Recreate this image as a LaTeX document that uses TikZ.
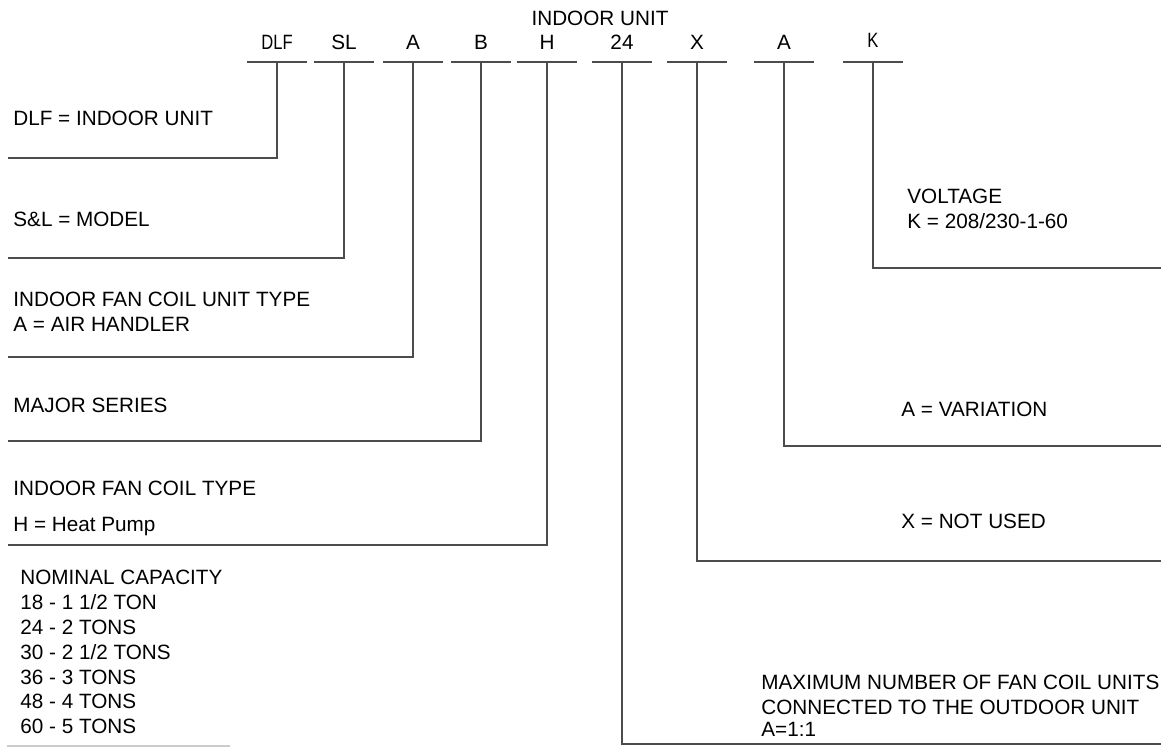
\documentclass[tikz,border=0pt]{standalone}
\usepackage{fontspec}
\setmainfont{Liberation Sans}
\usepackage{graphicx}
\usetikzlibrary{positioning}
\tikzstyle{code} = [inner xsep=0pt, inner ysep=6pt, minimum width=30pt, anchor=south, text depth=0pt]
\tikzstyle{desc} = [inner sep=0pt, anchor=north west, align=left]
\tikzstyle{lead} = [draw=black!70, line width=0.6pt]
\newcommand{\narrowtxt}[1]{\scalebox{0.8}[1]{#1}}

\begin{document}
\begin{tikzpicture}[x=0.5pt, y=-0.5pt, font=\fontsize{10.35}{12.4}\selectfont]
    \useasboundingbox (0,0) rectangle (1161,748);

    % model number letters
    \node (unit) [anchor=base] at (600,26) {INDOOR UNIT};
    \node (dlf) [code] at (277,62) {\narrowtxt{DLF}};
    \node (sl) [code] at (344,62) {SL};
    \node (ftype) [code] at (413,62) {A};
    \node (series) [code] at (481,62) {B};
    \node (htype) [code] at (547,62) {H};
    \node (cap) [code] at (622,62) {24};
    \node (unused) [code] at (697,62) {X};
    \node (var) [code] at (784,62) {A};
    \node (volt) [code, inner ysep=7pt] at (873,62) {\narrowtxt{K}};

    % descriptions
    \node (dlfdesc) [desc] at (13,111) {DLF = INDOOR UNIT};
    \node (sldesc) [desc] at (13,212) {S\&L = MODEL};
    \node (ftypedesc) [desc] at (13,292) {INDOOR FAN COIL UNIT TYPE\\A = AIR HANDLER};
    \node (seriesdesc) [desc] at (13,398) {MAJOR SERIES};
    \node (htypedesc) [desc] at (13,481) {INDOOR FAN COIL TYPE\\[5.6pt]H = Heat Pump};
    \node (capdesc) [desc] at (20,570) {NOMINAL CAPACITY\\18 - 1 1/2 TON\\24 - 2 TONS\\30 - 2 1/2 TONS\\36 - 3 TONS\\48 - 4 TONS\\60 - 5 TONS};
    \node (voltdesc) [desc] at (907,189) {VOLTAGE\\K = 208/230-1-60};
    \node (vardesc) [desc] at (901,402) {A = VARIATION};
    \node (unuseddesc) [desc] at (901,514) {X = NOT USED};
    \node (maxdesc) [desc] at (761,675) {MAXIMUM NUMBER OF FAN COIL UNITS\\CONNECTED TO THE OUTDOOR UNIT\\[-1.4pt]A=1:1};

    % leader ends
    \coordinate (dlfend) at (8,158);
    \coordinate (slend) at (8,258);
    \coordinate (ftypeend) at (8,357);
    \coordinate (seriesend) at (8,441);
    \coordinate (htypeend) at (8,545);
    \coordinate (capend) at (1161,744);
    \coordinate (unusedend) at (1161,561);
    \coordinate (varend) at (1161,446);
    \coordinate (voltend) at (1161,268);
    \coordinate (baseleft) at (7,746);
    \coordinate (baseright) at (230,746);

    % underlines
    \draw [lead] (dlf.south west) -- (dlf.south east);
    \draw [lead] (sl.south west) -- (sl.south east);
    \draw [lead] (ftype.south west) -- (ftype.south east);
    \draw [lead] (series.south west) -- (series.south east);
    \draw [lead] (htype.south west) -- (htype.south east);
    \draw [lead] (cap.south west) -- (cap.south east);
    \draw [lead] (unused.south west) -- (unused.south east);
    \draw [lead] (var.south west) -- (var.south east);
    \draw [lead] (volt.south west) -- (volt.south east);

    % leaders
    \draw [lead] (dlf.south) |- (dlfend);
    \draw [lead] (sl.south) |- (slend);
    \draw [lead] (ftype.south) |- (ftypeend);
    \draw [lead] (series.south) |- (seriesend);
    \draw [lead] (htype.south) |- (htypeend);
    \draw [lead] (cap.south) |- (capend);
    \draw [lead] (unused.south) |- (unusedend);
    \draw [lead] (var.south) |- (varend);
    \draw [lead] (volt.south) |- (voltend);
    \draw [draw=black!20, line width=0.6pt] (baseleft) -- (baseright);

\end{tikzpicture}
\end{document}
